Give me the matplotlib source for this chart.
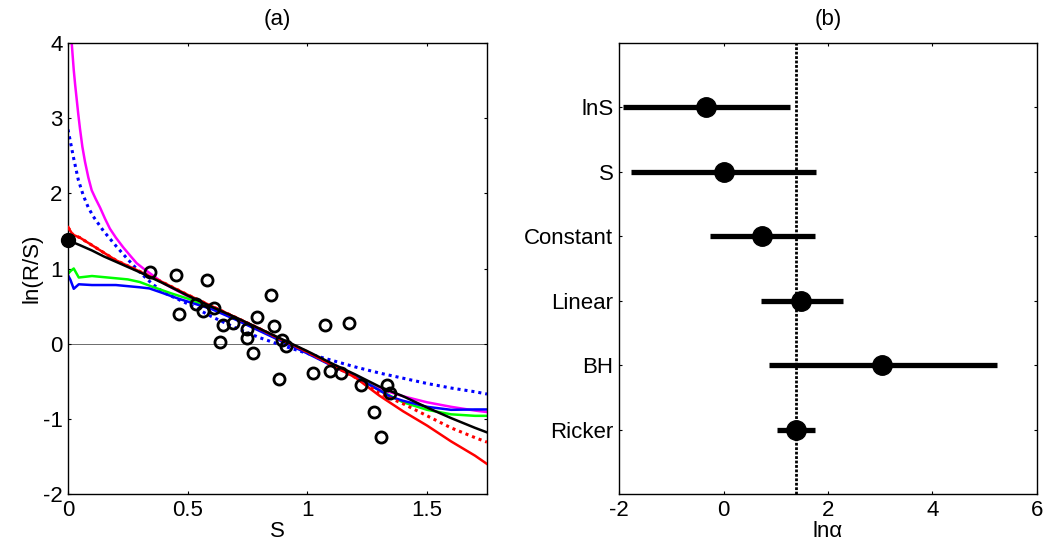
import matplotlib
matplotlib.use("Agg")
import matplotlib.pyplot as plt

plt.rcParams['font.family'] = ['Liberation Sans', 'DejaVu Sans']
plt.rcParams['font.size'] = 16
plt.rcParams['axes.unicode_minus'] = False

# ---- panel (a): observed ln(R/S) and fitted curves ----
obs_s = [0.343, 0.452, 0.579, 0.462, 0.534, 0.565, 0.611, 0.649, 0.688, 0.636,
         0.749, 0.749, 0.788, 0.771, 0.846, 0.862, 0.894, 0.911, 0.880, 1.072,
         1.172, 1.023, 1.094, 1.139, 1.225, 1.331, 1.345, 1.277, 1.307]
obs_lnrs = [0.956, 0.908, 0.846, 0.39, 0.527, 0.433, 0.478, 0.247, 0.27, 0.025,
            0.2, 0.07, 0.358, -0.13, 0.65, 0.234, 0.048, -0.03, -0.475, 0.25,
            0.27, -0.39, -0.36, -0.395, -0.55, -0.55, -0.66, -0.91, -1.24]
ricker_point = (0.0, 1.38)

s_grid = [0.0, 0.02, 0.05, 0.1, 0.15, 0.2, 0.3, 0.4, 0.5, 0.6, 0.7, 0.8,
          0.9, 1.0, 1.1, 1.2, 1.3, 1.4, 1.5, 1.6, 1.7, 1.75]
ricker = [1.38, 1.35, 1.31, 1.24, 1.16, 1.09, 0.95, 0.80, 0.64, 0.49, 0.35, 0.20,
          0.05, -0.10, -0.26, -0.41, -0.57, -0.70, -0.85, -0.99, -1.12, -1.18]
linear = [1.55, 1.45, 1.41, 1.31, 1.21, 1.11, 0.96, 0.81, 0.65, 0.50, 0.35, 0.20,
          0.04, -0.11, -0.28, -0.45, -0.69, -0.90, -1.09, -1.30, -1.49, -1.60]
linear_alt = [1.55, 1.45, 1.41, 1.31, 1.21, 1.11, 0.96, 0.81, 0.65, 0.50, 0.35, 0.20,
              0.04, -0.11, -0.28, -0.45, -0.66, -0.80, -0.96, -1.12, -1.25, -1.31]
blue_s = [0.0, 0.01, 0.024, 0.045, 0.1, 0.2, 0.3, 0.34, 0.39, 0.46, 0.6, 0.7, 0.8,
          0.9, 1.0, 1.1, 1.2, 1.3, 1.35, 1.4, 1.5, 1.6, 1.7, 1.75]
blue_lnrs = [0.91, 0.85, 0.73, 0.79, 0.78, 0.78, 0.75, 0.735, 0.68, 0.60, 0.46, 0.32,
             0.17, 0.02, -0.13, -0.29, -0.44, -0.62, -0.71, -0.76, -0.84, -0.88,
             -0.875, -0.875]
green_s = [0.0, 0.012, 0.024, 0.045, 0.1, 0.2, 0.25, 0.3, 0.35, 0.43, 0.5, 0.6,
           0.7, 0.8, 0.9, 1.0, 1.1, 1.2, 1.3, 1.4, 1.5, 1.6, 1.7, 1.75]
green_lnrs = [0.93, 0.97, 1.0, 0.88, 0.90, 0.87, 0.855, 0.82, 0.76, 0.67, 0.60, 0.47,
              0.33, 0.18, 0.03, -0.12, -0.28, -0.43, -0.62, -0.78, -0.88, -0.94,
              -0.96, -0.96]
magenta_s = [0.0155, 0.019, 0.024, 0.03, 0.036, 0.043, 0.05, 0.06, 0.071, 0.085,
             0.099, 0.115, 0.134, 0.155, 0.175, 0.2, 0.231, 0.26, 0.287, 0.315,
             0.343, 0.4, 0.5, 0.6, 0.7, 0.8, 0.9, 1.0, 1.1, 1.2, 1.3, 1.4, 1.5,
             1.6, 1.7, 1.75]
magenta_lnrs = [4.0, 3.85, 3.64, 3.44, 3.26, 3.05, 2.86, 2.62, 2.42, 2.21,
                2.04, 1.93, 1.81, 1.66, 1.53, 1.41, 1.28, 1.17, 1.07, 1.0,
                0.935, 0.80, 0.63, 0.48, 0.33, 0.18, 0.03, -0.12, -0.28, -0.43,
                -0.60, -0.70, -0.78, -0.84, -0.89, -0.91]
bluedot_s = [0.0, 0.022, 0.043, 0.064, 0.085, 0.106, 0.148, 0.203, 0.253, 0.3, 0.35,
             0.4, 0.5, 0.6, 0.7, 0.8, 0.9, 1.0, 1.1, 1.2, 1.3, 1.4, 1.5, 1.6, 1.7,
             1.75]
bluedot_lnrs = [2.85, 2.49, 2.18, 1.97, 1.81, 1.69, 1.50, 1.29, 1.11, 0.95, 0.80,
                0.68, 0.53, 0.36, 0.21, 0.08, -0.03, -0.13, -0.22, -0.31, -0.39,
                -0.46, -0.53, -0.59, -0.64, -0.67]

# ---- panel (b): ln(alpha) estimates ----
models = ['Ricker', 'BH', 'Linear', 'Constant', 'S', 'lnS']
lna_mean = [1.38, 3.04, 1.48, 0.74, 0.0, -0.34]
lna_low = [1.03, 0.87, 0.71, -0.26, -1.78, -1.92]
lna_high = [1.75, 5.24, 2.28, 1.75, 1.77, 1.27]
ricker_lna = 1.38

fig = plt.figure(figsize=(10.43, 5.57), dpi=100)
ax1 = fig.add_axes([0.0652, 0.1131, 0.4017, 0.8097])
ax2 = fig.add_axes([0.5935, 0.1131, 0.4007, 0.8097])

ax1.axhline(0, color='#555555', lw=0.6, zorder=1)
ax1.plot(magenta_s, magenta_lnrs, color='#ff00ff', lw=1.8, zorder=2)
ax1.plot(bluedot_s, bluedot_lnrs, color='#0000ff', lw=2.2, ls=(0, (1, 1.3)), zorder=2)
ax1.plot(green_s, green_lnrs, color='#00ff00', lw=1.8, zorder=2)
ax1.plot(blue_s, blue_lnrs, color='#0000ff', lw=1.8, zorder=2)
ax1.plot(s_grid, linear_alt, color='#ff0000', lw=2.2, ls=(0, (1, 1.3)), zorder=3)
ax1.plot(s_grid, linear, color='#ff0000', lw=1.8, zorder=3)
ax1.plot(s_grid, ricker, color='black', lw=1.8, zorder=4)
ax1.plot(obs_s, obs_lnrs, 'o', mfc='none', mec='black', mew=2, ms=8, zorder=5)
ax1.plot(*ricker_point, 'o', color='black', ms=10, zorder=6, clip_on=False)

ax1.set_xlim(0, 1.75)
ax1.set_ylim(-2, 4)
ax1.set_xticks([0, 0.5, 1, 1.5])
ax1.set_xticklabels(['0', '0.5', '1', '1.5'])
ax1.set_yticks(range(-2, 5))
ax1.set_xlabel('S', labelpad=0)
ax1.set_ylabel('ln(R/S)', labelpad=0)
ax1.set_title('(a)', fontsize=16, pad=13)

ypos = list(range(1, len(models) + 1))
ax2.axvline(ricker_lna, color='black', lw=2, ls=(0, (1, 0.6)), zorder=1)
ax2.hlines(ypos, lna_low, lna_high, color='black', lw=3.8, zorder=2)
ax2.plot(lna_mean, ypos, 'o', color='black', ms=14, zorder=3)
ax2.set_xlim(-2, 6)
ax2.set_ylim(0, 7)
ax2.set_xticks([-2, 0, 2, 4, 6])
ax2.set_yticks(ypos)
ax2.set_yticklabels(models)
ax2.set_xlabel('ln\u03b1', labelpad=0)
ax2.set_title('(b)', fontsize=16, pad=13)

for ax in (ax1, ax2):
    ax.tick_params(direction='in', top=True, right=True, length=2.5, width=0.8,
                   labelsize=16, pad=4)
    for sp in ax.spines.values():
        sp.set_linewidth(1.0)

fig.savefig('out.png', dpi=100)
